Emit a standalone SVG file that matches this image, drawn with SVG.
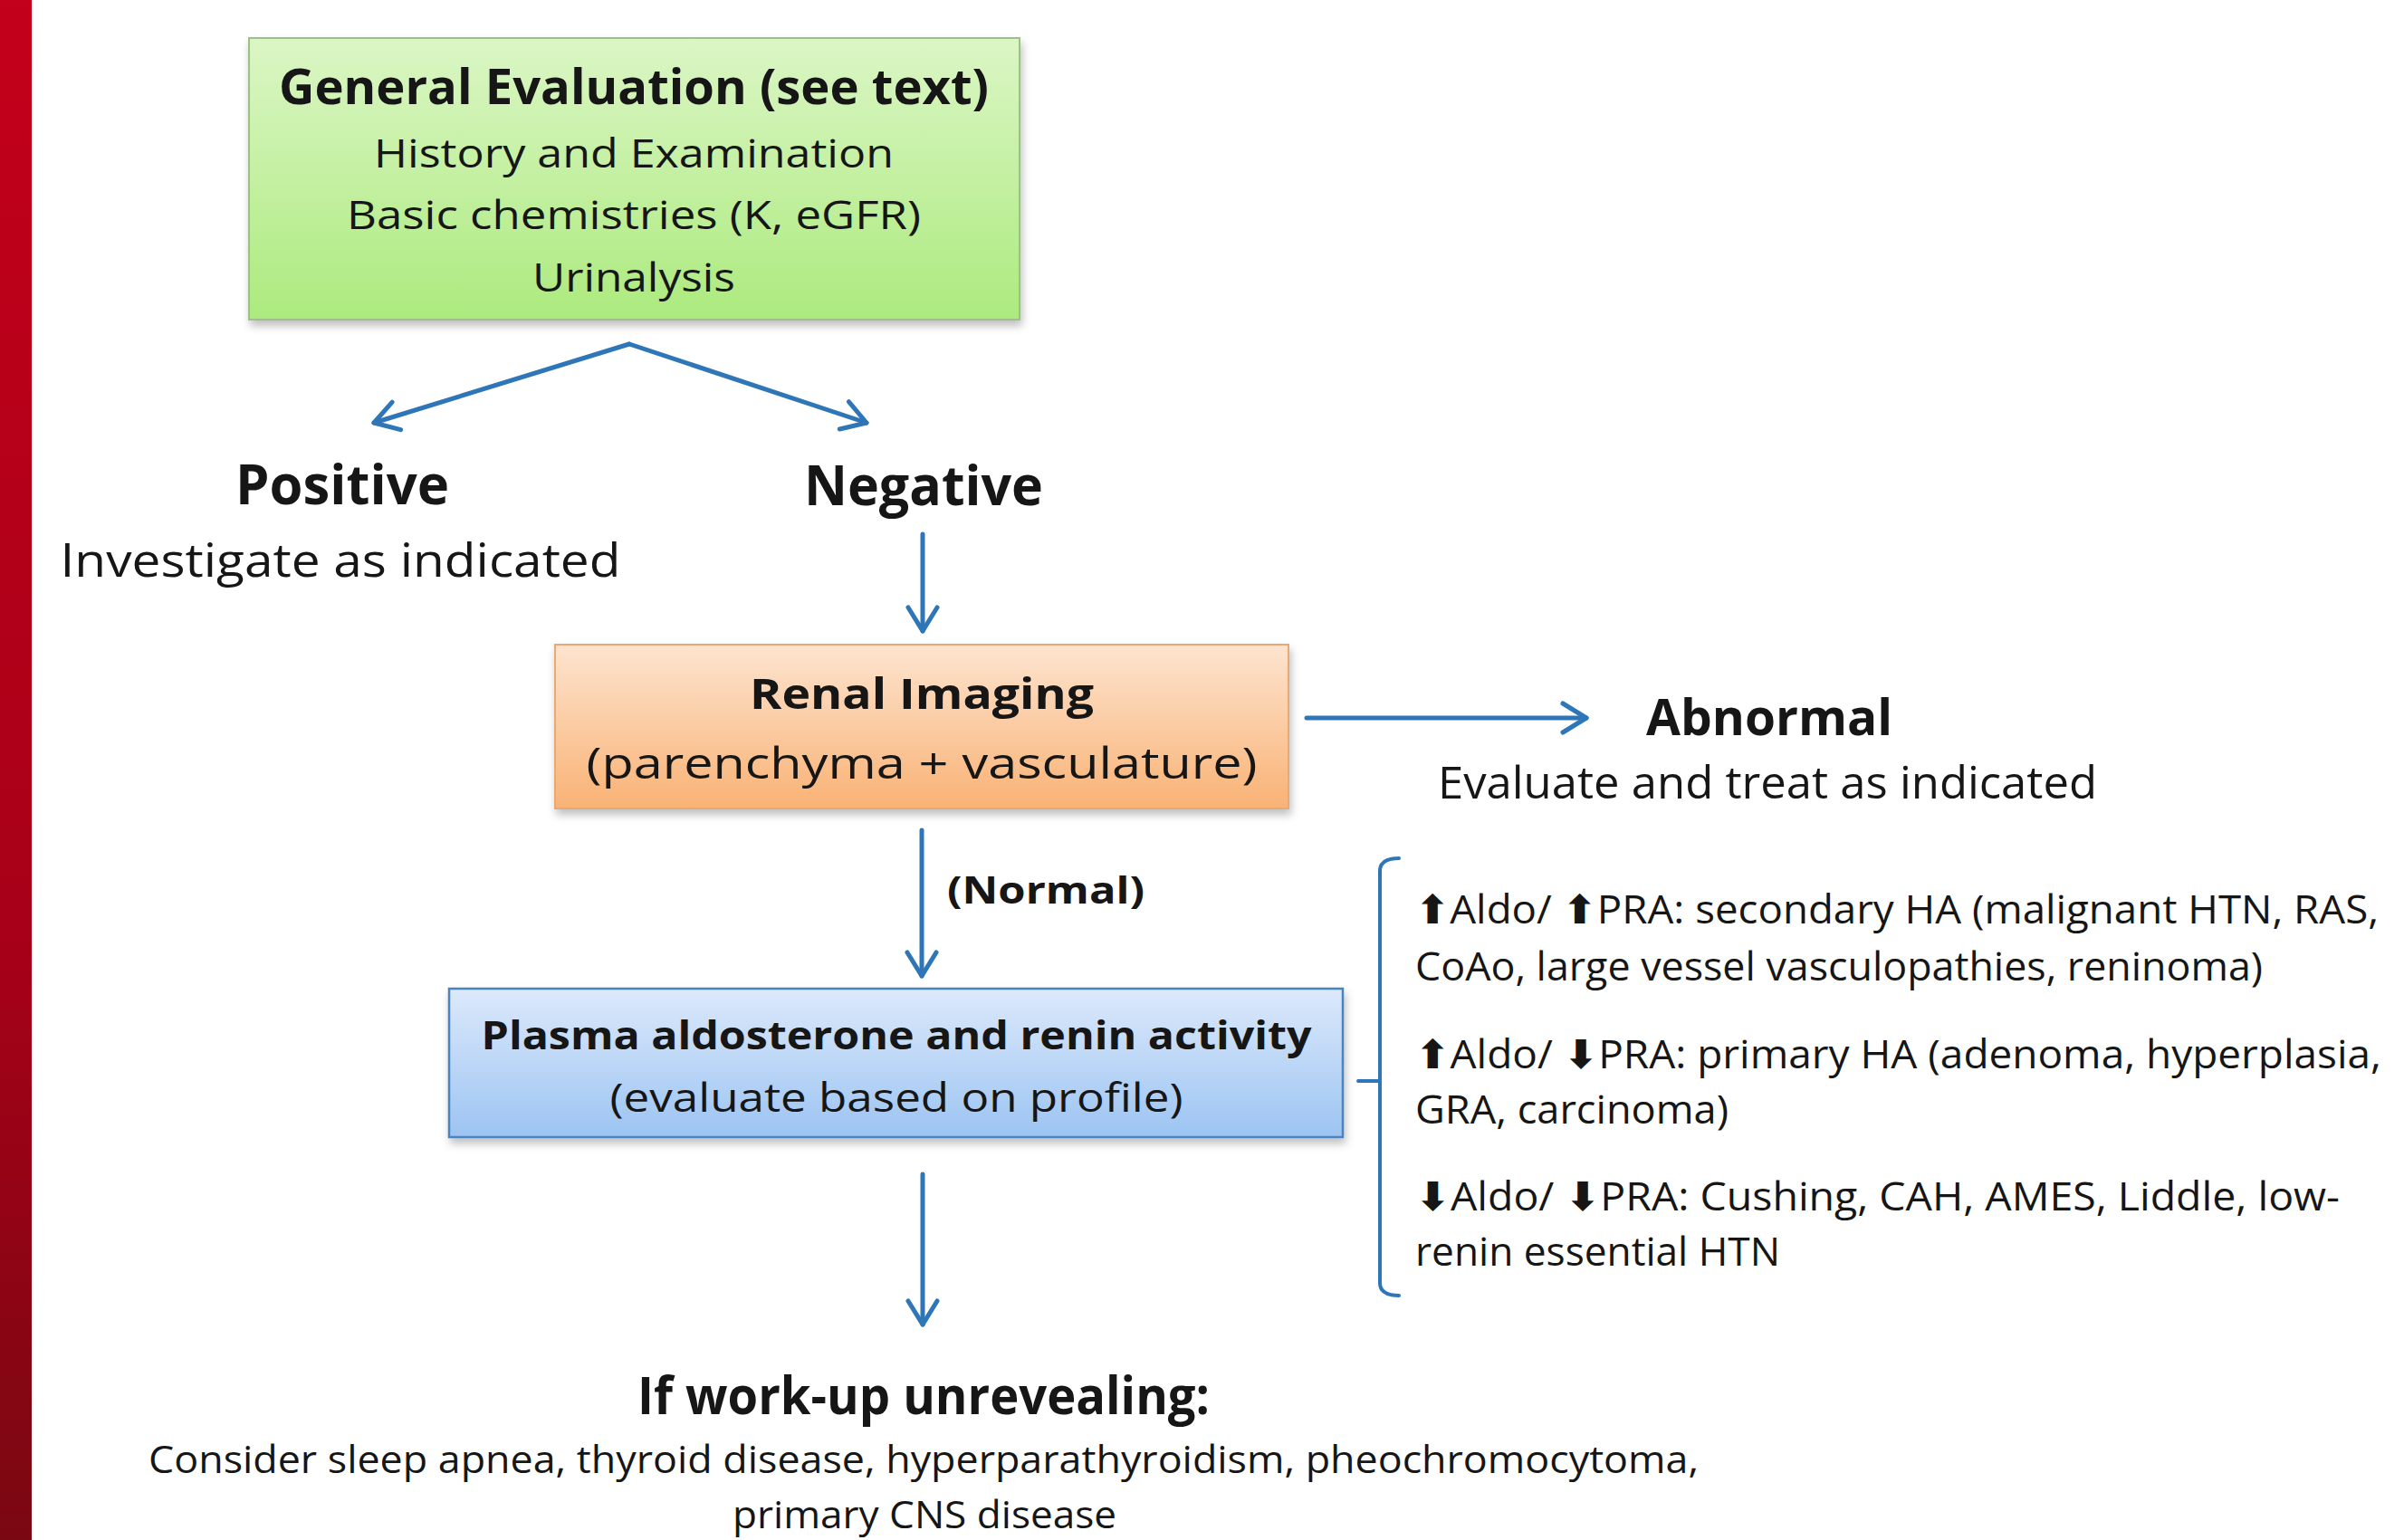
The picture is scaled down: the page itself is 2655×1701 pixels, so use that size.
<svg xmlns="http://www.w3.org/2000/svg" width="2655" height="1701" viewBox="0 0 2655 1701">
<defs>
<linearGradient id="gRed" x1="0" y1="0" x2="0" y2="1"><stop offset="0" stop-color="#c4001b"/><stop offset="0.6" stop-color="#a80018"/><stop offset="1" stop-color="#7a0812"/></linearGradient>
<linearGradient id="gGreen" x1="0" y1="0" x2="0" y2="1"><stop offset="0" stop-color="#dbf6c5"/><stop offset="1" stop-color="#acea7e"/></linearGradient>
<linearGradient id="gOrange" x1="0" y1="0" x2="0" y2="1"><stop offset="0" stop-color="#fde4cf"/><stop offset="1" stop-color="#f9b275"/></linearGradient>
<linearGradient id="gBlue" x1="0" y1="0" x2="0" y2="1"><stop offset="0" stop-color="#dce9fb"/><stop offset="1" stop-color="#9cc4f2"/></linearGradient>
<filter id="shadow" x="-5%" y="-10%" width="110%" height="125%"><feDropShadow dx="2" dy="6" stdDeviation="5" flood-color="#000" flood-opacity="0.25"/></filter>
<marker id="arr" markerUnits="userSpaceOnUse" markerWidth="44" markerHeight="44" viewBox="0 0 44 44" refX="36" refY="22" orient="auto-start-reverse">
<path d="M10,6 L36,22 L10,38" fill="none" stroke="#2e76b7" stroke-width="5" stroke-linecap="round" stroke-linejoin="round"/>
</marker>
<style>
text{font-family:"Open Sans","Liberation Sans",sans-serif;fill:#161616}
.b{font-weight:bold}
.c{text-anchor:middle}
.ar{font-family:"DejaVu Sans","Liberation Sans",sans-serif;font-weight:bold}
.conn{fill:none;stroke:#2e76b7;stroke-width:5;stroke-linecap:round;stroke-linejoin:round}
.arrowed{marker-end:url(#arr)}
</style>
</defs>
<rect x="0" y="0" width="2655" height="1701" fill="#ffffff"/>
<rect x="0" y="0" width="35" height="1701" fill="url(#gRed)"/>

<g id="connectors">
<path class="conn arrowed" d="M695,380 L413,467"/>
<path class="conn arrowed" d="M695,380 L957,467"/>
<path class="conn arrowed" d="M1019,590 L1019,697"/>
<path class="conn arrowed" d="M1443,793 L1752,793"/>
<path class="conn arrowed" d="M1018,917 L1018,1078"/>
<path class="conn arrowed" d="M1019,1297 L1019,1463"/>
<path class="conn" style="stroke-width:4" d="M1545,948 Q1524,948 1524,962 L1524,1417 Q1524,1431 1545,1431 M1500,1194 L1524,1194"/>
</g>

<g id="general-evaluation">
<rect x="275" y="42" width="851" height="311" fill="url(#gGreen)" stroke="#9cc08a" stroke-width="2" filter="url(#shadow)"/>
<text class="b c" x="700" y="115" font-size="54" textLength="784" lengthAdjust="spacingAndGlyphs">General Evaluation (see text)</text>
<text class="c" x="700" y="185" font-size="43" textLength="574" lengthAdjust="spacingAndGlyphs">History and Examination</text>
<text class="c" x="700" y="253" font-size="43" textLength="634" lengthAdjust="spacingAndGlyphs">Basic chemistries (K, eGFR)</text>
<text class="c" x="700" y="322" font-size="43" textLength="224" lengthAdjust="spacingAndGlyphs">Urinalysis</text>
</g>

<g id="positive">
<text class="b c" x="378" y="557" font-size="60" textLength="236" lengthAdjust="spacingAndGlyphs">Positive</text>
<text class="c" x="376" y="637" font-size="52" textLength="619" lengthAdjust="spacingAndGlyphs">Investigate as indicated</text>
</g>

<g id="negative">
<text class="b c" x="1020" y="558" font-size="60" textLength="264" lengthAdjust="spacingAndGlyphs">Negative</text>
</g>

<g id="renal-imaging">
<rect x="613" y="712" width="810" height="181" fill="url(#gOrange)" stroke="#eaa872" stroke-width="2" filter="url(#shadow)"/>
<text class="b c" x="1018" y="783" font-size="47" textLength="380" lengthAdjust="spacingAndGlyphs">Renal Imaging</text>
<text class="c" x="1018" y="860" font-size="47" textLength="741" lengthAdjust="spacingAndGlyphs">(parenchyma + vasculature)</text>
</g>

<g id="abnormal">
<text class="b c" x="1954" y="812" font-size="56" textLength="272" lengthAdjust="spacingAndGlyphs">Abnormal</text>
<text class="c" x="1952" y="882" font-size="49" textLength="728" lengthAdjust="spacingAndGlyphs">Evaluate and treat as indicated</text>
</g>

<g id="normal-label">
<text class="b" x="1046" y="998" font-size="42" textLength="218" lengthAdjust="spacingAndGlyphs">(Normal)</text>
</g>

<g id="plasma">
<rect x="496" y="1092" width="987" height="164" fill="url(#gBlue)" stroke="#4a83c0" stroke-width="2.5" filter="url(#shadow)"/>
<text class="b c" x="990" y="1159" font-size="43" textLength="917" lengthAdjust="spacingAndGlyphs">Plasma aldosterone and renin activity</text>
<text class="c" x="990" y="1228" font-size="43" textLength="633" lengthAdjust="spacingAndGlyphs">(evaluate based on profile)</text>
</g>

<g id="profiles">
<text x="1563" y="1020" font-size="44" textLength="1064" lengthAdjust="spacingAndGlyphs"><tspan class="ar">⬆</tspan>Aldo/ <tspan class="ar">⬆</tspan>PRA: secondary HA (malignant HTN, RAS,</text>
<text x="1563" y="1083" font-size="44" textLength="936" lengthAdjust="spacingAndGlyphs">CoAo, large vessel vasculopathies, reninoma)</text>
<text x="1563" y="1180" font-size="44" textLength="1067" lengthAdjust="spacingAndGlyphs"><tspan class="ar">⬆</tspan>Aldo/ <tspan class="ar">⬇</tspan>PRA: primary HA (adenoma, hyperplasia,</text>
<text x="1563" y="1241" font-size="44" textLength="346" lengthAdjust="spacingAndGlyphs">GRA, carcinoma)</text>
<text x="1563" y="1337" font-size="44" textLength="1021" lengthAdjust="spacingAndGlyphs"><tspan class="ar">⬇</tspan>Aldo/ <tspan class="ar">⬇</tspan>PRA: Cushing, CAH, AMES, Liddle, low-</text>
<text x="1563" y="1398" font-size="44" textLength="403" lengthAdjust="spacingAndGlyphs">renin essential HTN</text>
</g>

<g id="unrevealing">
<text class="b c" x="1020" y="1562" font-size="58" textLength="632" lengthAdjust="spacingAndGlyphs">If work-up unrevealing:</text>
<text class="c" x="1020" y="1627" font-size="42" textLength="1712" lengthAdjust="spacingAndGlyphs">Consider sleep apnea, thyroid disease, hyperparathyroidism, pheochromocytoma,</text>
<text class="c" x="1021" y="1688" font-size="42" textLength="424" lengthAdjust="spacingAndGlyphs">primary CNS disease</text>
</g>
</svg>
